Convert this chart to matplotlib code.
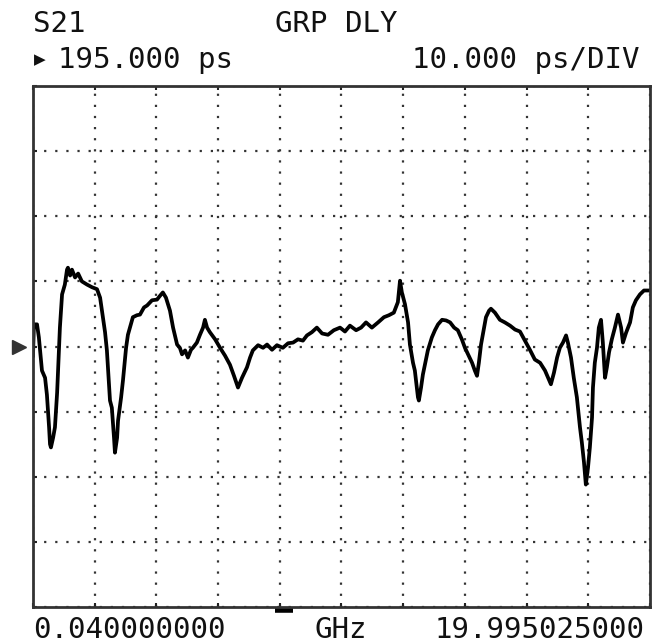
import matplotlib
matplotlib.use("Agg")
import matplotlib.pyplot as plt
import matplotlib.transforms as mtransforms
import numpy as np

# sweep settings (GHz, ps)
f_start = 0.040000000
f_stop = 19.995025000
ref_level = 195.0
scale = 10.0
marker_freq = [7.86, 8.44]

# group delay trace
freq = [0.04, 0.07, 0.17, 0.23, 0.33, 0.43, 0.49, 0.56, 0.59, 0.62, 0.69, 0.75, 0.82, 0.85,
        0.91, 0.98, 1.07, 1.14, 1.17, 1.24, 1.30, 1.40, 1.50, 1.62, 1.79, 1.95, 2.11, 2.21,
        2.30, 2.37, 2.43, 2.53, 2.59, 2.66, 2.69, 2.76, 2.79, 2.89, 2.95, 3.05, 3.11, 3.27,
        3.40, 3.50, 3.63, 3.73, 3.89, 4.05, 4.15, 4.24, 4.34, 4.47, 4.57, 4.70, 4.79, 4.86,
        4.96, 5.05, 5.15, 5.21, 5.34, 5.44, 5.54, 5.60, 5.67, 5.76, 5.93, 6.09, 6.25, 6.41,
        6.54, 6.67, 6.80, 6.96, 7.06, 7.15, 7.32, 7.48, 7.61, 7.77, 7.93, 8.12, 8.29, 8.45,
        8.61, 8.77, 8.90, 9.06, 9.22, 9.39, 9.58, 9.77, 9.97, 10.13, 10.29, 10.49, 10.65,
        10.81, 11.00, 11.20, 11.39, 11.55, 11.71, 11.84, 11.91, 11.97, 12.07, 12.17, 12.23,
        12.33, 12.39, 12.49, 12.52, 12.59, 12.65, 12.75, 12.81, 12.94, 13.04, 13.14, 13.27,
        13.40, 13.53, 13.66, 13.78, 13.91, 14.01, 14.11, 14.24, 14.33, 14.40, 14.46, 14.53,
        14.63, 14.69, 14.79, 14.85, 14.98, 15.14, 15.30, 15.47, 15.63, 15.79, 15.95, 16.11,
        16.27, 16.44, 16.60, 16.70, 16.79, 16.89, 16.99, 17.08, 17.18, 17.28, 17.34, 17.44,
        17.53, 17.63, 17.73, 17.79, 17.86, 17.92, 17.99, 18.05, 18.12, 18.15, 18.21, 18.28,
        18.34, 18.41, 18.47, 18.54, 18.60, 18.67, 18.76, 18.86, 18.96, 19.06, 19.12, 19.22,
        19.35, 19.44, 19.54, 19.67, 19.80, 19.995]
delay = [193.6, 198.4, 198.4, 196.4, 191.3, 190.2, 187.6, 182.6, 180.0, 179.5, 181.0, 182.6,
         187.9, 191.3, 197.9, 203.0, 204.5, 206.8, 207.1, 205.9, 206.8, 205.6, 206.2, 205.0,
         204.5, 204.1, 203.8, 202.5, 199.5, 197.2, 194.4, 186.7, 185.6, 181.0, 178.7, 181.0,
         183.6, 187.2, 189.8, 194.8, 196.8, 199.5, 199.8, 199.9, 201.0, 201.3, 202.1, 202.2,
         202.8, 203.3, 202.5, 200.5, 197.9, 195.3, 194.8, 193.8, 194.4, 193.3, 194.5, 194.8,
         195.6, 196.8, 197.9, 199.1, 197.9, 197.2, 196.1, 194.8, 193.6, 192.2, 190.5, 188.7,
         190.2, 191.8, 193.3, 194.4, 195.2, 194.8, 195.3, 194.5, 195.2, 194.8, 195.5, 195.6,
         196.1, 195.9, 196.7, 197.2, 197.9, 197.0, 196.8, 197.5, 197.9, 197.3, 198.2, 197.5,
         197.9, 198.7, 197.9, 198.7, 199.5, 199.8, 200.2, 201.8, 205.1, 203.3, 201.5, 198.7,
         195.3, 192.5, 191.3, 187.2, 186.7, 188.7, 190.7, 193.0, 194.4, 196.4, 197.5, 198.4,
         199.1, 199.0, 198.7, 197.9, 197.5, 196.1, 194.8, 193.8, 192.5, 191.3, 190.5, 192.5,
         195.3, 197.9, 199.5, 200.5, 200.8, 200.2, 199.1, 198.7, 198.2, 197.6, 197.3, 195.9,
         194.5, 193.0, 192.5, 191.3, 190.2, 189.2, 191.0, 193.3, 194.8, 195.6, 196.7, 195.6,
         193.3, 190.2, 187.2, 182.6, 180.3, 177.2, 173.8, 176.4, 179.5, 184.1, 188.7, 192.5,
         194.8, 197.9, 199.1, 195.6, 190.2, 191.8, 194.1, 196.1, 197.9, 199.9, 197.9, 195.6,
         197.1, 198.7, 201.0, 202.1, 203.0, 203.6, 203.6]

fig = plt.figure(figsize=(6.58, 6.43), dpi=100)
ax = fig.add_axes([33 / 658, 36 / 643, 617 / 658, 521 / 643])

ax.plot(freq, delay, '-', color='black', lw=2.7)

ax.set_xlim(f_start, f_stop)
ax.set_ylim(ref_level - 4 * scale, ref_level + 4 * scale)
ax.set_xticks(np.linspace(f_start, f_stop, 11))
ax.set_yticks(np.arange(ref_level - 4 * scale, ref_level + 4 * scale + 1, scale))
ax.tick_params(direction='in', length=3, width=1.5, colors='#222',
               labelbottom=False, labelleft=False, top=True)
ax.grid(True, linestyle=(0, (1, 4)), color='#333', lw=1.6)
for s in ax.spines.values():
    s.set_linewidth(2)
    s.set_color('#333')

# reference arrow and marker bar
tr = mtransforms.blended_transform_factory(ax.transAxes, ax.transData)
ax.plot([-0.023], [ref_level], marker='>', ms=10, color='#333', transform=tr, clip_on=False)
tr2 = mtransforms.blended_transform_factory(ax.transData, ax.transAxes)
ax.plot(marker_freq, [-0.006, -0.006], color='black', lw=4, solid_capstyle='butt',
        transform=tr2, clip_on=False)

fnt = dict(family=['DejaVu Sans Mono', 'DejaVu Sans'], fontsize=21, color='#111')
fig.text(33 / 658, 1 - 24 / 643, 'S21', va='center', ha='left', **fnt)
fig.text(275 / 658, 1 - 24 / 643, 'GRP DLY', va='center', ha='left', **fnt)
fig.text(34 / 658, 1 - 60 / 643, '▶', va='center', ha='left',
         family=['DejaVu Sans'], fontsize=11, color='#111')
fig.text(58 / 658, 1 - 60 / 643, '195.000 ps', va='center', ha='left', **fnt)
fig.text(640 / 658, 1 - 60 / 643, '10.000 ps/DIV', va='center', ha='right', **fnt)
fig.text(33 / 658, 1 - 630 / 643, '0.040000000', va='center', ha='left', **fnt)
fig.text(341 / 658, 1 - 630 / 643, 'GHz', va='center', ha='center', **fnt)
fig.text(645 / 658, 1 - 630 / 643, '19.995025000', va='center', ha='right', **fnt)

fig.savefig('out.png', dpi=100)
